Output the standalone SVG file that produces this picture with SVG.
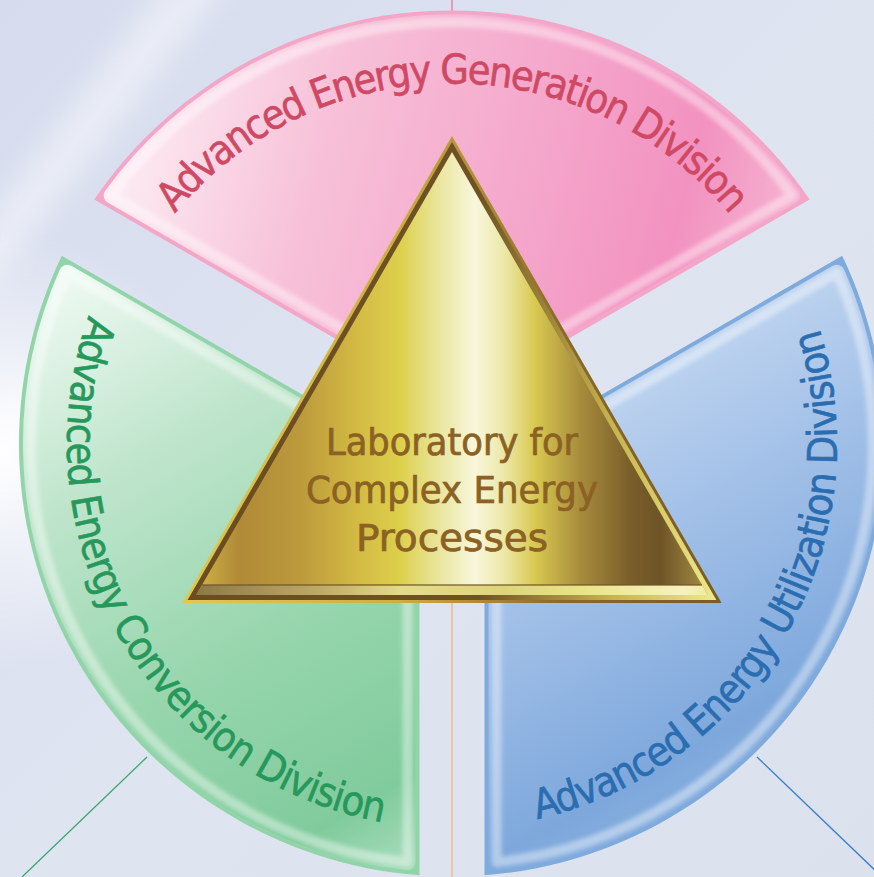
<svg xmlns="http://www.w3.org/2000/svg" width="874" height="877" viewBox="0 0 874 877">
<defs>
  <style>
    .lbl { font-family: 'DejaVu Sans Condensed', 'DejaVu Sans', sans-serif; font-stretch: condensed; font-size: 41px; stroke-width: 0.6; }
    .center { font-family: 'DejaVu Sans Condensed', 'DejaVu Sans', sans-serif; font-stretch: condensed; font-size: 38px; fill: #8b6224; stroke: #8b6224; stroke-width: 0.7; text-anchor: middle; }
    .hl { fill: none; stroke: #ffffff; stroke-opacity: 0.4; stroke-width: 10; stroke-linejoin: round; filter: url(#soft); }
    .conn { fill: none; stroke-width: 1.3; }
  </style>
  <filter id="soft" x="-10%" y="-10%" width="120%" height="120%">
    <feGaussianBlur stdDeviation="2"/>
  </filter>
  <filter id="haze" x="-50%" y="-50%" width="200%" height="200%">
    <feGaussianBlur stdDeviation="14"/>
  </filter>
  <linearGradient id="bg" x1="0" y1="0" x2="1" y2="1">
    <stop offset="0" stop-color="#d6dcee"/>
    <stop offset="0.5" stop-color="#dfe4f1"/>
    <stop offset="1" stop-color="#dce1ee"/>
  </linearGradient>
  <radialGradient id="glow" cx="0" cy="450" r="220" gradientUnits="userSpaceOnUse">
    <stop offset="0" stop-color="#ffffff" stop-opacity="0.95"/>
    <stop offset="1" stop-color="#ffffff" stop-opacity="0"/>
  </radialGradient>
  <linearGradient id="pinkFill" x1="100" y1="150" x2="800" y2="330" gradientUnits="userSpaceOnUse">
    <stop offset="0" stop-color="#fdf0f5"/>
    <stop offset="0.3" stop-color="#f7c0d8"/>
    <stop offset="0.55" stop-color="#f5aacd"/>
    <stop offset="0.8" stop-color="#f292c0"/>
    <stop offset="1" stop-color="#f7bcd6"/>
  </linearGradient>
  <linearGradient id="greenFill" x1="60" y1="260" x2="420" y2="870" gradientUnits="userSpaceOnUse">
    <stop offset="0" stop-color="#f2fbf5"/>
    <stop offset="0.3" stop-color="#bfe5cc"/>
    <stop offset="0.6" stop-color="#98d6ae"/>
    <stop offset="0.88" stop-color="#80cb9c"/>
    <stop offset="1" stop-color="#acdec0"/>
  </linearGradient>
  <linearGradient id="blueFill" x1="500" y1="300" x2="820" y2="860" gradientUnits="userSpaceOnUse">
    <stop offset="0" stop-color="#d6e4f5"/>
    <stop offset="0.4" stop-color="#a6c3e9"/>
    <stop offset="0.75" stop-color="#7ea8dc"/>
    <stop offset="1" stop-color="#94b8e2"/>
  </linearGradient>
  <linearGradient id="rim" x1="182" y1="0" x2="722" y2="0" gradientUnits="userSpaceOnUse">
    <stop offset="0" stop-color="#e0c850"/>
    <stop offset="0.4" stop-color="#cdb040"/>
    <stop offset="0.7" stop-color="#8a6a28"/>
    <stop offset="1" stop-color="#7a5c26"/>
  </linearGradient>
  <linearGradient id="dark" x1="182" y1="0" x2="722" y2="0" gradientUnits="userSpaceOnUse">
    <stop offset="0" stop-color="#6a4c20"/>
    <stop offset="0.55" stop-color="#6e5224"/>
    <stop offset="0.8" stop-color="#c8b450"/>
    <stop offset="1" stop-color="#f0ec90"/>
  </linearGradient>
  <linearGradient id="gold" x1="182" y1="0" x2="722" y2="0" gradientUnits="userSpaceOnUse">
    <stop offset="0.033" stop-color="#cdb046"/>
    <stop offset="0.107" stop-color="#b08a36"/>
    <stop offset="0.219" stop-color="#bc9a3c"/>
    <stop offset="0.33" stop-color="#d4bc44"/>
    <stop offset="0.404" stop-color="#ddd04c"/>
    <stop offset="0.478" stop-color="#ebe6a0"/>
    <stop offset="0.543" stop-color="#f8f7dc"/>
    <stop offset="0.598" stop-color="#ece7a6"/>
    <stop offset="0.654" stop-color="#d8c950"/>
    <stop offset="0.737" stop-color="#a88c3c"/>
    <stop offset="0.83" stop-color="#7a5e2a"/>
    <stop offset="0.885" stop-color="#6e5426"/>
    <stop offset="0.959" stop-color="#9c8440"/>
    <stop offset="1" stop-color="#b09a48"/>
  </linearGradient>
  <linearGradient id="baseStrip" x1="196" y1="0" x2="708" y2="0" gradientUnits="userSpaceOnUse">
    <stop offset="0" stop-color="#8c7846"/>
    <stop offset="0.25" stop-color="#c0ac68"/>
    <stop offset="0.4" stop-color="#e4dc88"/>
    <stop offset="0.6" stop-color="#ddd47a"/>
    <stop offset="0.75" stop-color="#e8e484"/>
    <stop offset="0.95" stop-color="#f6f2c0"/>
    <stop offset="1" stop-color="#f0eca0"/>
  </linearGradient>
  <path id="pPath" d="M140.2,263.5 A360,360 0 0 1 763.8,263.5"/>
  <path id="gPath" d="M118.6,251 A385,385 0 0 0 452,828.5"/>
  <path id="bPath" d="M452,828.5 A385,385 0 0 0 785.4,251"/>
</defs>

<g id="background">
  <rect width="874" height="877" fill="url(#bg)"/>
  <rect width="874" height="877" fill="url(#glow)"/>
  <polygon points="-20,300 -20,230 170,-20 230,-20" fill="#ffffff" opacity="0.45" filter="url(#haze)"/>
  <polygon points="-20,520 -20,420 120,320 140,360" fill="#ffffff" opacity="0.35" filter="url(#haze)"/>
</g>

<g id="connectors">
  <line class="conn" x1="452" y1="0" x2="452" y2="12" stroke="#e27a9c"/>
  <line class="conn" x1="452" y1="603" x2="452" y2="877" stroke="#f0b86a"/>
  <line class="conn" x1="147" y1="757" x2="22" y2="877" stroke="#3aa870"/>
  <line class="conn" x1="757" y1="757" x2="880" y2="875" stroke="#3a80c8"/>
</g>

<g id="generation">
  <path d="M94.3,199.4 L452,406 L809.7,199.4 A433,433 0 0 0 94.3,199.4 Z" fill="#f3a6c8"/>
  <path d="M111.7,195.5 L452,392.1 L792.3,195.5 A421,421 0 0 0 111.7,195.5 Z" fill="url(#pinkFill)" stroke="url(#pinkFill)" stroke-width="16" stroke-linejoin="round"/>
  <path class="hl" d="M111.7,195.5 L452,392.1 L792.3,195.5 A421,421 0 0 0 111.7,195.5 Z"/>
  <text class="lbl" fill="#cf4964" stroke="#cf4964" letter-spacing="-1.9"><textPath href="#pPath" startOffset="50%" text-anchor="middle">Advanced Energy Generation Division</textPath></text>
</g>

<g id="conversion">
  <path d="M61.8,255.8 L419.5,462.3 L419.5,875.3 A433,433 0 0 1 61.8,255.8 Z" fill="#92d4aa"/>
  <path d="M67.2,272.7 L407.5,469.2 L407.5,862.1 A421,421 0 0 1 67.2,272.7 Z" fill="url(#greenFill)" stroke="url(#greenFill)" stroke-width="16" stroke-linejoin="round"/>
  <path class="hl" d="M67.2,272.7 L407.5,469.2 L407.5,862.1 A421,421 0 0 1 67.2,272.7 Z"/>
  <text class="lbl" fill="#27985c" stroke="#27985c" letter-spacing="-1.0"><textPath href="#gPath" startOffset="50%" text-anchor="middle">Advanced Energy Conversion Division</textPath></text>
</g>

<g id="utilization">
  <path d="M842.2,255.8 L484.5,462.3 L484.5,875.3 A433,433 0 0 0 842.2,255.8 Z" fill="#7eaadc"/>
  <path d="M836.8,272.7 L496.5,469.2 L496.5,862.1 A421,421 0 0 0 836.8,272.7 Z" fill="url(#blueFill)" stroke="url(#blueFill)" stroke-width="16" stroke-linejoin="round"/>
  <path class="hl" d="M836.8,272.7 L496.5,469.2 L496.5,862.1 A421,421 0 0 0 836.8,272.7 Z"/>
  <text class="lbl" fill="#2a6db0" stroke="#2a6db0" letter-spacing="-1.2"><textPath href="#bPath" startOffset="50%" text-anchor="middle">Advanced Energy Utilization Division</textPath></text>
</g>

<g id="laboratory">
  <polygon points="452,136 721.6,603 182.4,603" fill="url(#rim)"/>
  <polygon points="452,142 716.4,600 187.6,600" fill="url(#dark)"/>
  <polygon points="452,152 707.8,595 196.2,595" fill="url(#gold)"/>
  <polygon points="196.2,595 707.8,595 702,585 202,585" fill="url(#baseStrip)"/>
  <line x1="202" y1="585" x2="702" y2="585" stroke="#6e5426" stroke-opacity="0.6" stroke-width="2"/>
  <text class="center" x="452" y="455" textLength="252" lengthAdjust="spacingAndGlyphs">Laboratory for</text>
  <text class="center" x="452" y="503" textLength="292" lengthAdjust="spacingAndGlyphs">Complex Energy</text>
  <text class="center" x="452" y="551" textLength="192" lengthAdjust="spacingAndGlyphs">Processes</text>
</g>
</svg>
